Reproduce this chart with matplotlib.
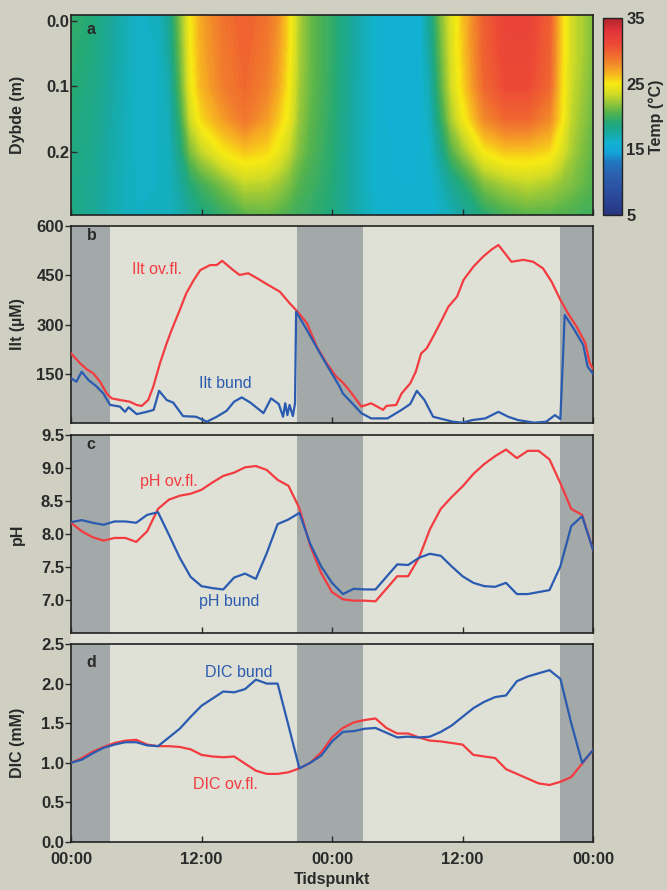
import matplotlib.pyplot as plt
import numpy as np
from matplotlib.cm import ScalarMappable
from matplotlib.colors import LinearSegmentedColormap, Normalize
from matplotlib.patches import Rectangle

# ---------------- data ----------------
# night periods (hours from start)
nights = [(0.0, 3.6), (20.8, 26.85), (45.0, 48.0)]

# panel a: temperature (degC) read on a time x depth grid
temp_times = [0, 2, 4, 6, 8, 9, 10, 11, 12, 14, 16, 18, 19, 20, 21, 22, 24,
              26, 28, 30, 32, 33, 34, 35, 36, 38, 40, 42, 44, 45, 46, 47, 48]
temp_depths = [-0.01, 0.05, 0.10, 0.15, 0.20, 0.25, 0.30]
temp_values = [
    [19.5, 19.3, 19.2, 19.0, 18.8, 18.6, 18.5],
    [19.0, 18.8, 18.6, 18.4, 18.2, 18.0, 17.9],
    [17.5, 17.4, 17.3, 17.2, 17.1, 17.0, 17.0],
    [16.3, 16.3, 16.3, 16.3, 16.3, 16.4, 16.4],
    [16.5, 16.4, 16.4, 16.4, 16.4, 16.4, 16.5],
    [18.0, 17.5, 17.0, 16.8, 16.6, 16.6, 16.6],
    [21.5, 21.0, 20.5, 19.5, 18.5, 17.5, 17.0],
    [25.0, 24.8, 24.5, 23.5, 21.5, 19.0, 17.8],
    [27.0, 26.8, 26.5, 25.5, 23.0, 20.0, 18.5],
    [29.0, 28.7, 28.5, 27.3, 25.0, 21.5, 19.5],
    [29.8, 29.6, 29.4, 28.8, 26.0, 23.0, 20.5],
    [29.0, 28.7, 28.3, 27.3, 25.5, 22.8, 20.8],
    [27.8, 27.4, 27.0, 26.0, 24.5, 22.3, 20.5],
    [25.5, 25.3, 25.0, 24.5, 23.2, 21.5, 20.2],
    [22.5, 22.5, 22.3, 22.0, 21.5, 20.5, 19.8],
    [21.0, 21.0, 21.0, 20.8, 20.5, 20.0, 19.5],
    [19.5, 19.5, 19.4, 19.3, 19.2, 19.0, 18.8],
    [17.5, 17.5, 17.4, 17.4, 17.3, 17.3, 17.3],
    [16.0, 16.0, 16.0, 16.0, 16.0, 16.0, 16.2],
    [15.6, 15.6, 15.6, 15.6, 15.7, 15.8, 16.0],
    [15.8, 15.8, 15.8, 15.8, 15.8, 15.8, 16.0],
    [18.0, 17.5, 17.0, 16.5, 16.2, 16.0, 16.0],
    [21.5, 21.0, 20.5, 19.5, 18.0, 16.8, 16.3],
    [24.0, 23.8, 23.5, 22.5, 20.5, 18.0, 16.8],
    [26.0, 25.8, 25.5, 24.5, 22.0, 19.0, 17.5],
    [30.0, 29.8, 29.5, 28.0, 25.0, 21.5, 19.0],
    [31.5, 31.3, 31.0, 29.5, 26.0, 22.5, 20.0],
    [31.5, 31.3, 31.0, 29.5, 26.0, 23.0, 20.5],
    [30.0, 29.8, 29.5, 28.0, 25.5, 22.5, 20.5],
    [26.0, 26.0, 25.8, 25.5, 24.0, 22.0, 20.3],
    [23.5, 23.5, 23.3, 23.0, 22.5, 21.5, 20.2],
    [22.5, 22.5, 22.3, 22.0, 21.5, 21.0, 20.0],
    [21.5, 21.5, 21.3, 21.0, 20.8, 20.5, 20.0],
]

# panel b: oxygen (uM)
ilt_top_t = [0, 0.83, 1.44, 2.05, 2.67, 3.28, 3.74, 4.5, 5.4, 6.04, 6.5, 7.1,
             7.57, 8.18, 8.8, 9.25, 10.0, 10.6, 11.3, 11.9, 12.8, 13.4, 13.9,
             14.9, 15.5, 16.3, 17.1, 18.0, 19.2, 20.1, 20.75, 21.7, 22.6, 23.5,
             24.4, 25.0, 25.7, 26.7, 27.6, 28.7, 29.0, 29.9, 30.4, 31.2, 31.7,
             32.2, 32.7, 33.3, 34.1, 34.7, 35.5, 36.1, 37.0, 37.9, 38.7, 39.3,
             39.9, 40.5, 41.6, 42.5, 43.4, 44.2, 45.0, 45.7, 46.5, 47.3, 47.7,
             48.0]
ilt_top = [212, 182, 164, 151, 126, 90, 75, 70, 65, 55, 52, 70, 111, 182, 243,
           283, 344, 395, 436, 466, 481, 481, 494, 466, 451, 456, 441, 423, 400,
           365, 342, 304, 232, 182, 141, 123, 95, 50, 60, 40, 52, 55, 90, 121,
           156, 212, 227, 263, 314, 354, 385, 436, 476, 507, 529, 542, 517, 491,
           497, 491, 471, 430, 375, 334, 293, 243, 182, 165]

ilt_bot_t = [0, 0.5, 0.98, 1.6, 2.36, 2.97, 3.6, 4.5, 4.97, 5.3, 6.04, 6.96,
             7.6, 8.1, 8.8, 9.4, 10.3, 11.5, 12.5, 13.4, 14.3, 15.0, 15.7, 16.5,
             17.7, 18.4, 19.1, 19.5, 19.7, 19.9, 20.1, 20.4, 20.6, 20.7, 21.7,
             22.9, 23.8, 24.7, 25.0, 25.8, 26.7, 27.6, 29.1, 30.4, 31.2, 31.8,
             32.5, 33.3, 35.1, 36.0, 36.9, 38.1, 39.3, 40.2, 41.1, 42.6, 43.7,
             44.5, 45.0, 45.4, 46.3, 47.1, 47.5, 48.0]
ilt_bot = [136, 126, 156, 131, 111, 90, 55, 50, 34, 48, 27, 34, 40, 98, 70, 62,
           21, 19, 4, 19, 37, 65, 78, 62, 30, 75, 58, 19, 60, 24, 55, 21, 60,
           339, 283, 212, 161, 111, 90, 62, 30, 14, 14, 40, 58, 98, 70, 19, 4,
           1, 9, 14, 34, 19, 9, 1, 4, 24, 12, 329, 283, 238, 172, 150]

# panels c and d: hourly samples
hours = list(range(49))
ph_top = [8.17, 8.04, 7.95, 7.90, 7.94, 7.94, 7.88, 8.04, 8.38, 8.52, 8.58,
          8.61, 8.67, 8.78, 8.88, 8.93, 9.01, 9.03, 8.97, 8.82, 8.73, 8.39,
          7.82, 7.41, 7.12, 7.01, 6.99, 6.99, 6.98, 7.17, 7.36, 7.36, 7.64,
          8.07, 8.38, 8.56, 8.72, 8.91, 9.06, 9.18, 9.28, 9.15, 9.26, 9.26,
          9.13, 8.77, 8.38, 8.29, 7.76]
ph_bot = [8.18, 8.21, 8.17, 8.14, 8.19, 8.19, 8.17, 8.29, 8.33, 7.99, 7.64,
          7.35, 7.21, 7.18, 7.16, 7.34, 7.40, 7.32, 7.71, 8.15, 8.22, 8.32,
          7.85, 7.51, 7.26, 7.09, 7.17, 7.16, 7.16, 7.35, 7.54, 7.53, 7.64,
          7.70, 7.67, 7.51, 7.36, 7.26, 7.21, 7.20, 7.26, 7.09, 7.09, 7.12,
          7.15, 7.51, 8.12, 8.27, 7.76]
dic_top = [1.00, 1.06, 1.14, 1.20, 1.25, 1.28, 1.29, 1.23, 1.21, 1.21, 1.20,
           1.17, 1.10, 1.08, 1.07, 1.08, 0.99, 0.90, 0.86, 0.86, 0.88, 0.93,
           1.00, 1.13, 1.32, 1.44, 1.51, 1.54, 1.56, 1.44, 1.37, 1.37, 1.32,
           1.28, 1.27, 1.25, 1.23, 1.10, 1.08, 1.06, 0.92, 0.86, 0.80, 0.74,
           0.72, 0.76, 0.82, 0.99, 1.16]
dic_bot = [1.00, 1.04, 1.12, 1.19, 1.23, 1.26, 1.26, 1.22, 1.21, 1.32, 1.43,
           1.58, 1.72, 1.81, 1.90, 1.89, 1.93, 2.05, 2.00, 2.00, 1.47, 0.93,
           1.00, 1.09, 1.27, 1.39, 1.40, 1.43, 1.44, 1.38, 1.32, 1.33, 1.32,
           1.33, 1.39, 1.47, 1.58, 1.69, 1.77, 1.83, 1.85, 2.03, 2.09, 2.13,
           2.17, 2.06, 1.50, 1.00, 1.16]

x_ticks = [0, 12, 24, 36, 48]
x_ticklabels = ['00:00', '12:00', '00:00', '12:00', '00:00']

# ---------------- style ----------------
BG = '#cfd0c2'
LIGHT = '#dfe0d6'
NIGHT = '#a3a8a8'
RED = '#f23c40'
BLUE = '#2a5bb0'
INK = '#2a2a2a'
FONT = 'Liberation Sans'

plt.rcParams['font.family'] = FONT
plt.rcParams['font.weight'] = 'bold'
plt.rcParams['axes.labelweight'] = 'bold'

temp_cmap = LinearSegmentedColormap.from_list('temp', [
    (0.000, '#27357f'), (0.100, '#2b4a9c'), (0.200, '#2b5fae'),
    (0.267, '#2176c0'), (0.317, '#14a5da'), (0.367, '#12b2d0'),
    (0.417, '#18a8a0'), (0.467, '#22a878'), (0.517, '#52b24e'),
    (0.567, '#93c63a'), (0.617, '#d4dc24'), (0.667, '#f7ea12'),
    (0.717, '#f7b520'), (0.767, '#f28a2a'), (0.817, '#f0672f'),
    (0.867, '#ec4a36'), (0.933, '#e2343a'), (1.000, '#b3242b'),
])

W, H = 667, 890
L, R = 71, 593


def add_panel(top, bottom):
    return fig.add_axes([L / W, 1 - bottom / H, (R - L) / W, (bottom - top) / H])


def style(ax, letter, letter_y, ylabel, yticks, ylim, ytick_dir='out'):
    ax.set_xlim(0, 48)
    ax.set_ylim(*ylim)
    ax.set_xticks(x_ticks)
    ax.set_yticks(yticks)
    ax.tick_params(axis='x', direction='in', length=4, width=1, colors=INK,
                   labelbottom=False)
    ax.tick_params(axis='y', direction=ytick_dir, length=4, width=1, colors=INK,
                   labelsize=12, pad=1)
    for s in ax.spines.values():
        s.set_color('#222222')
        s.set_linewidth(1.2)
    ax.set_ylabel(ylabel, fontsize=11.5, color=INK)
    ax.yaxis.set_label_coords(-0.088, 0.5)
    ax.text(0.03, letter_y, letter, transform=ax.transAxes, fontsize=11.5,
            color=INK, ha='left', va='center')


def shade(ax):
    ax.set_facecolor(LIGHT)
    for a, b in nights:
        ax.axvspan(a, b, color=NIGHT, lw=0, zorder=0)


fig = plt.figure(figsize=(W / 100, H / 100), dpi=100)
fig.patch.set_facecolor(BG)
fig.add_artist(Rectangle((L / W, 1 - 842 / H), (R - L) / W, (842 - 226) / H,
                         transform=fig.transFigure, facecolor=LIGHT,
                         edgecolor='none', zorder=-10))

# ---- a: temperature ----
ax_a = add_panel(15, 215)
temp = np.array(temp_values)
ax_a.contourf(temp_times, temp_depths, temp.T, levels=np.linspace(5, 35, 151),
              cmap=temp_cmap, vmin=5, vmax=35)
style(ax_a, 'a', 0.925, 'Dybde (m)', [0.0, 0.1, 0.2], (0.297, -0.009), 'in')
ax_a.set_yticklabels(['0.0', '0.1', '0.2'])

cax = fig.add_axes([603 / W, 1 - 215 / H, 19 / W, 197 / H])
cb = fig.colorbar(ScalarMappable(Normalize(5, 35), temp_cmap), cax=cax,
                  ticks=[5, 15, 25, 35])
cb.outline.set_edgecolor('#222222')
cb.outline.set_linewidth(1.0)
cax.tick_params(length=0, labelsize=12, colors=INK, pad=3)
cb.set_label('Temp (°C)', fontsize=11.5, color=INK, labelpad=3)

# ---- b: oxygen ----
ax_b = add_panel(226, 423)
shade(ax_b)
ax_b.plot(ilt_top_t, ilt_top, color=RED, lw=1.6, zorder=3)
ax_b.plot(ilt_bot_t, ilt_bot, color=BLUE, lw=1.6, zorder=3)
style(ax_b, 'b', 0.95, 'Ilt (µM)', [150, 300, 450, 600], (0, 600))
ax_b.text(5.6, 469, 'Ilt ov.fl.', color=RED, fontsize=11.5, weight='normal',
          ha='left', va='center')
ax_b.text(11.8, 119, 'Ilt bund', color=BLUE, fontsize=11.5, weight='normal',
          ha='left', va='center')

# ---- c: pH ----
ax_c = add_panel(435, 633)
shade(ax_c)
ax_c.plot(hours, ph_top, color=RED, lw=1.6, zorder=3)
ax_c.plot(hours, ph_bot, color=BLUE, lw=1.6, zorder=3)
style(ax_c, 'c', 0.95, 'pH', [7.0, 7.5, 8.0, 8.5, 9.0, 9.5], (6.5, 9.5))
ax_c.set_yticklabels(['7.0', '7.5', '8.0', '8.5', '9.0', '9.5'])
ax_c.text(6.35, 8.79, 'pH ov.fl.', color=RED, fontsize=11.5, weight='normal',
          ha='left', va='center')
ax_c.text(11.8, 6.97, 'pH bund', color=BLUE, fontsize=11.5, weight='normal',
          ha='left', va='center')

# ---- d: DIC ----
ax_d = add_panel(644, 842)
shade(ax_d)
ax_d.plot(hours, dic_top, color=RED, lw=1.6, zorder=3)
ax_d.plot(hours, dic_bot, color=BLUE, lw=1.6, zorder=3)
style(ax_d, 'd', 0.905, 'DIC (mM)', [0.0, 0.5, 1.0, 1.5, 2.0, 2.5], (0, 2.5))
ax_d.set_yticklabels(['0.0', '0.5', '1.0', '1.5', '2.0', '2.5'])
ax_d.tick_params(axis='x', labelbottom=True, labelsize=12, pad=7)
ax_d.set_xticklabels(x_ticklabels)
ax_d.set_xlabel('Tidspunkt', fontsize=11.5, color=INK, labelpad=4)
ax_d.text(12.3, 2.14, 'DIC bund', color=BLUE, fontsize=11.5, weight='normal',
          ha='left', va='center')
ax_d.text(11.25, 0.72, 'DIC ov.fl.', color=RED, fontsize=11.5, weight='normal',
          ha='left', va='center')

fig.savefig('out.png', dpi=100, facecolor=fig.get_facecolor())
